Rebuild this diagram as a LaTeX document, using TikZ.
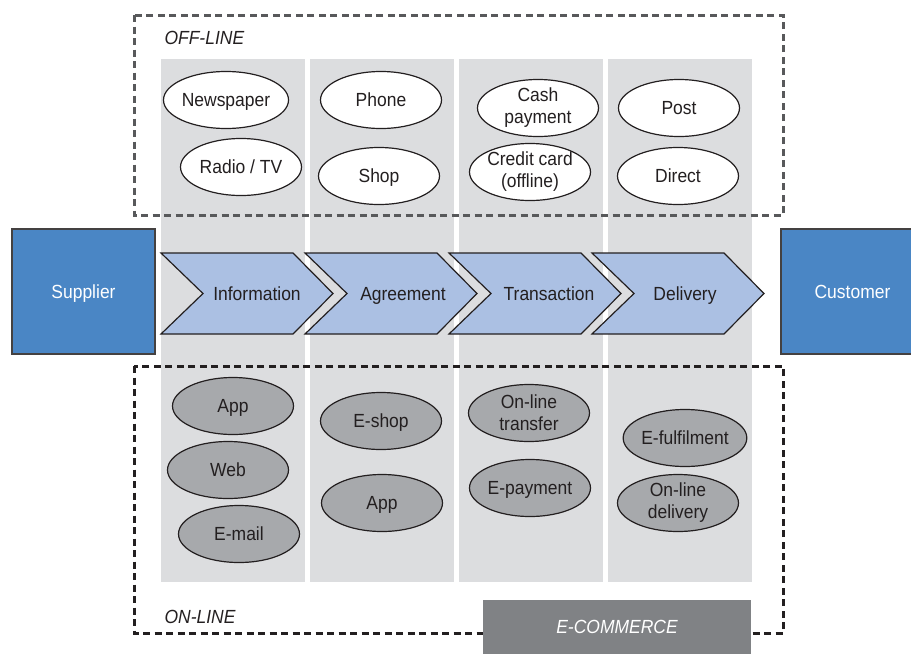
\documentclass[tikz,border=0pt]{standalone}
\usepackage{fontspec}
\setmainfont{Liberation Sans}[FakeStretch=0.92]
\usepackage{xcolor}
\usepackage{tikz}
\usetikzlibrary{shapes.geometric, positioning}

\definecolor{lanegray}{HTML}{DCDDDF}
\definecolor{stageblue}{HTML}{ABC0E3}
\definecolor{partyblue}{HTML}{4A86C5}
\definecolor{ongray}{HTML}{A7A9AC}
\definecolor{ecomgray}{HTML}{808285}
\definecolor{ink}{HTML}{231F20}
\definecolor{offdash}{HTML}{58595B}

\begin{document}
\begin{tikzpicture}[x=1pt, y=-1pt,
            every node/.style={font=\fontsize{19}{22}\selectfont, text=ink},
            oneline/.style={text height=13.5pt, text depth=0pt},
            lane/.style={fill=lanegray},
            offitem/.style={ellipse, draw=ink, line width=1.2pt, fill=white,
                minimum width=121pt, minimum height=57pt, inner sep=0pt, align=center},
            onitem/.style={offitem, fill=ongray},
            stage/.style={draw=ink, line width=1.2pt, fill=stageblue, line join=miter},
            party/.style={rectangle, oneline, draw=ink!85, line width=1.2pt, fill=partyblue,
                minimum width=143pt, minimum height=125pt, text=white},
            tag/.style={anchor=west, oneline, font=\fontsize{19}{22}\selectfont\itshape},
            offbox/.style={draw=offdash, line width=3pt, dash pattern=on 7pt off 4.5pt},
            onbox/.style={draw=ink, line width=3pt, dash pattern=on 7pt off 4.5pt}
        ]
        \useasboundingbox (0,0) rectangle (911,654);

        % Four lanes behind everything
        \foreach \x in {161,310,459,608}
            \fill[lane] (\x,59) rectangle ++(144,523);

        % Off-line and on-line frames
        \draw[offbox] (134,15) rectangle (783,215);
        \draw[onbox] (134,366) rectangle (783,633);
        \node[tag] (offline) at (161,38) {OFF-LINE};
        \node[tag] (online) at (161,617) {ON-LINE};

        % Off-line channels
        \node[offitem, oneline] (news) at (226,100) {Newspaper};
        \node[offitem, oneline] (radio) at (241,167) {Radio / TV};
        \node[offitem, oneline] (phone) at (381,100) {Phone};
        \node[offitem, oneline] (shop) at (379,176) {Shop};
        \node[offitem] (cash) at (538,108) {Cash\\payment};
        \node[offitem] (card) at (530,172) {Credit card\\(offline)};
        \node[offitem, oneline] (post) at (679,108) {Post};
        \node[offitem, oneline] (direct) at (678,176) {Direct};

        % On-line channels
        \node[onitem, oneline] (app) at (233,406) {App};
        \node[onitem, oneline] (web) at (228,470) {Web};
        \node[onitem, oneline] (email) at (239,534) {E-mail};
        \node[onitem, oneline] (eshop) at (381,421) {E-shop};
        \node[onitem, oneline] (app2) at (382,503) {App};
        \node[onitem] (transfer) at (529,413) {On-line\\transfer};
        \node[onitem, oneline] (epay) at (530,488) {E-payment};
        \node[onitem, oneline] (efulfil) at (685,438) {E-fulfilment};
        \node[onitem] (odeliv) at (678,503) {On-line\\delivery};

        % Process chain (chevrons)
        \foreach \x/\tx/\nm/\txt in {161/257/info/Information, 305/403/agree/Agreement,
                449/549/trans/Transaction, 592/685/deliv/Delivery} {
            \draw[stage] (\x,253) -- ++(132,0) -- ++(40,40.5) -- ++(-40,40.5)
                -- ++(-132,0) -- ++(42,-40.5) -- cycle;
            \node[oneline] (\nm) at (\tx,293.5) {\txt};
        }

        \node[party] (supplier) at (83.5,291.5) {Supplier};
        \node[party] (customer) at (852.5,291.5) {Customer};

        % E-commerce banner
        \node[rectangle, oneline, fill=ecomgray, minimum width=268pt, minimum height=54pt,
            text=white, font=\fontsize{19}{22}\selectfont\itshape] (ecom) at (617,627) {E-COMMERCE};

    \end{tikzpicture}
\end{document}
